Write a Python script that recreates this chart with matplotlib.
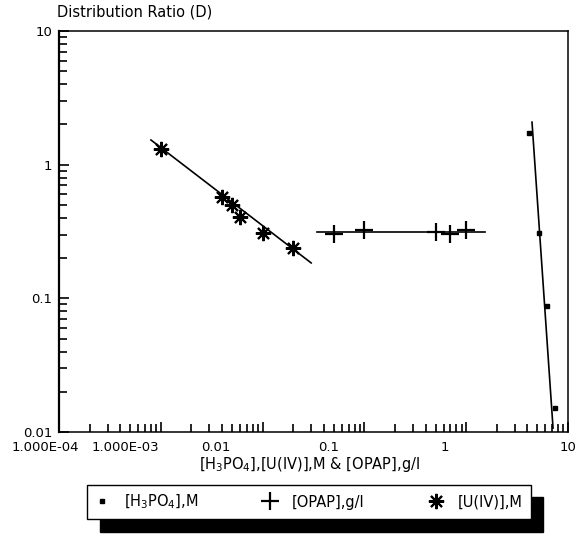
import matplotlib
matplotlib.use('Agg')
from matplotlib import pyplot as plt
from matplotlib.ticker import LogLocator, NullFormatter
import numpy as np

# values
h3po4_x = [4.1, 5.2, 6.2, 7.4]
h3po4_y = [1.73, 0.31, 0.088, 0.0151]
h3po4_fit_x = [4.43, 7.13]
h3po4_fit_y = [2.08, 0.0107]

opap_x = [0.05, 0.1, 0.5, 0.7, 1.0]
opap_y = [0.305, 0.325, 0.315, 0.305, 0.325]
opap_fit_x = [0.034, 1.53]
opap_fit_y = [0.314, 0.314]

u_x = [0.001, 0.004, 0.005, 0.006, 0.01, 0.02]
u_y = [1.31, 0.573, 0.50, 0.406, 0.31, 0.238]
u_fit_x = [0.0008, 0.03]
u_fit_y = [1.53, 0.184]

xticks = [1e-4, 1e-3, 1e-2, 1e-1, 1, 10]
xticklabels = ['1.000E-04', '1.000E-03', '0.01', '0.1', '1', '10']
xlabel_shift = [-14, -35, -47, -36, -21, 0]  # px, labels sit left of ticks in the original
yticks = [0.01, 0.1, 1, 10]
yticklabels = ['0.01', '0.1', '1', '10']

plt.rcParams['font.family'] = ['DejaVu Sans']

fig = plt.figure(figsize=(5.8, 5.55), dpi=100)
ax = fig.add_axes([59/580, 1-432/555, 509/580, 401/555])

ax.set_xscale('log')
ax.set_yscale('log')
ax.set_xlim(1e-4, 10)
ax.set_ylim(0.01, 10)

star = (8, 2, 0)
ax.plot(h3po4_x, h3po4_y, linestyle='none', marker='s', markersize=3, color='black',
        label='[H$_3$PO$_4$],M')
ax.plot(opap_x, opap_y, linestyle='none', marker='+', markersize=13, markeredgewidth=1.6,
        color='black', label='[OPAP],g/l')
ax.plot(u_x, u_y, linestyle='none', marker=star, markersize=11, markeredgewidth=1.5,
        color='black', label='[U(IV)],M')

ax.plot(h3po4_fit_x, h3po4_fit_y, color='black', lw=1.2)
ax.plot(opap_fit_x, opap_fit_y, color='black', lw=1.2)
ax.plot(u_fit_x, u_fit_y, color='black', lw=1.2)

ax.xaxis.set_minor_locator(LogLocator(base=10, subs=np.arange(2, 10), numticks=20))
ax.yaxis.set_minor_locator(LogLocator(base=10, subs=np.arange(2, 10), numticks=20))
ax.set_xticks(xticks)
ax.set_xticklabels([''] * len(xticks))
ax.xaxis.set_minor_formatter(NullFormatter())
ax.set_yticks(yticks)
ax.set_yticklabels(yticklabels, fontsize=9.5)
ax.yaxis.set_minor_formatter(NullFormatter())

ax.tick_params(which='both', direction='in', top=False, right=False, width=1.2)
ax.tick_params(which='major', length=7)
ax.tick_params(which='minor', length=6)
ax.tick_params(axis='y', pad=5)

for s in ax.spines.values():
    s.set_linewidth(1.1)
ax.spines['left'].set_linewidth(1.6)

for x, lab, dx in zip(xticks, xticklabels, xlabel_shift):
    ax.annotate(lab, xy=(x, 0), xycoords=('data', 'axes fraction'),
                xytext=(dx * 0.72, -11), textcoords='offset points',
                ha='center', va='center', fontsize=9.5)

fig.text(57/580, 1-12/555, 'Distribution Ratio (D)', ha='left', va='center', fontsize=10.5)
fig.text(310/580, 1-465/555, '[H$_3$PO$_4$],[U(IV)],M & [OPAP],g/l',
         ha='center', va='center', fontsize=10.5)

leg = fig.legend(loc='center', bbox_to_anchor=(309/580, 1-502/555), ncol=3,
                 fontsize=10.5, frameon=True, fancybox=False, edgecolor='black',
                 handlelength=1.0, handletextpad=1.0, columnspacing=4.4,
                 borderpad=0.55, borderaxespad=0,
                 shadow={'ox': 9, 'oy': -9, 'color': 'black', 'alpha': 1})
leg.get_frame().set_linewidth(1.0)

fig.savefig('out.png', dpi=100)
